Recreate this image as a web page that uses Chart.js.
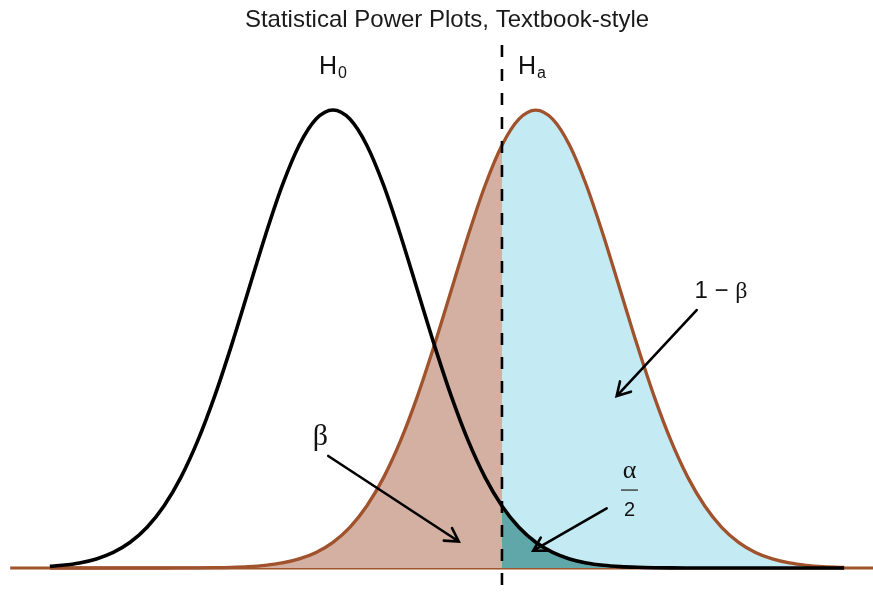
<!DOCTYPE html>
<html>
<head>
<meta charset="utf-8">
<script src="https://cdn.jsdelivr.net/npm/chart.js@4.4.1/dist/chart.umd.min.js"></script>
<style>
  html, body { margin: 0; padding: 0; background: #fff; overflow: hidden; }
  #wrap { position: relative; width: 873px; height: 592px; }
</style>
</head>
<body>
<div id="wrap"><canvas id="chart"></canvas></div>
<script>
// x grid (in H0 standard deviations) shared by both curves
const xGrid = [-3.35, -3.2, -3.0, -2.8, -2.6, -2.4, -2.2, -2.0, -1.8, -1.6, -1.4, -1.2, -1.0, -0.8, -0.6, -0.4, -0.2,
  0, 0.2, 0.4, 0.6, 0.8, 1.0, 1.2, 1.4, 1.6, 1.8, 2.0, 2.2, 2.4, 2.6, 2.8, 3.0, 3.2, 3.4, 3.6, 3.8, 4.0,
  4.2, 4.4, 4.6, 4.8, 5.0, 5.2, 5.4, 5.6, 5.8, 6.0, 6.05];

// density of the null curve
const h0Density = [0.00146, 0.00238, 0.00443, 0.00792, 0.01358, 0.02239, 0.03547, 0.05399, 0.07895, 0.11092, 0.14973,
  0.19419, 0.24197, 0.28969, 0.33322, 0.36827, 0.39104, 0.39894, 0.39104, 0.36827, 0.33322, 0.28969, 0.24197,
  0.19419, 0.14973, 0.11092, 0.07895, 0.05399, 0.03547, 0.02239, 0.01358, 0.00792, 0.00443, 0.00238, 0.00123,
  0.00061, 0.00029, 0.00013, 0.00006, 0.00002, 0.00001, 0, 0, 0, 0, 0, 0, 0, 0];

// density of the alternative curve
const haDensity = [0, 0, 0, 0, 0, 0, 0.00001, 0.00002, 0.00006, 0.00013, 0.00029, 0.00061, 0.00123, 0.00238, 0.00443,
  0.00792, 0.01358, 0.02239, 0.03547, 0.05399, 0.07895, 0.11092, 0.14973, 0.19419, 0.24197, 0.28969, 0.33322,
  0.36827, 0.39104, 0.39894, 0.39104, 0.36827, 0.33322, 0.28969, 0.24197, 0.19419, 0.14973, 0.11092, 0.07895,
  0.05399, 0.03547, 0.02239, 0.01358, 0.00792, 0.00443, 0.00238, 0.00123, 0.00061, 0.00052];

const critX = 2.0;
const baselineX = [-3.82, 6.391];

// annotation anchors, in data units
const hypLabelX = [0, 2.355];
const hypLabelY = 0.4364;
const hypSubs = ['0', 'a'];
const betaLabel = [-0.148, 0.1141];
const powerLabel = [4.592, 0.2413];
const alphaLabel = [3.509, 0.0841, 0.0679, 0.0505];
const arrowFrom = [[-0.056, 0.0976], [4.304, 0.2247], [3.239, 0.0520]];
const arrowTo = [[1.489, 0.0231], [3.357, 0.1498], [2.370, 0.0151]];

const SANS = "'Liberation Sans', Arial, sans-serif";
const SERIF = "'Liberation Serif', 'Times New Roman', serif";
const BROWN = '#A0522D';

function pts(ys, keep) {
  const out = [];
  xGrid.forEach((x, i) => { if (!keep || keep(x)) out.push({ x: x, y: ys[i] }); });
  return out;
}

const annotations = {
  id: 'annotations',
  afterDatasetsDraw(chart) {
    const ctx = chart.ctx;
    const sx = chart.scales.x, sy = chart.scales.y;
    const px = v => sx.getPixelForValue(v);
    const py = v => sy.getPixelForValue(v);
    ctx.save();
    ctx.fillStyle = '#111';
    ctx.strokeStyle = '#111';
    ctx.textBaseline = 'middle';

    // H0 / Ha with subscripts
    hypLabelX.forEach((hx, i) => {
      ctx.font = '25px ' + SANS;
      const wH = ctx.measureText('H').width;
      ctx.font = '16px ' + SANS;
      const wS = ctx.measureText(hypSubs[i]).width;
      const left = px(hx) - (wH + wS + 1) / 2;
      const cy = py(hypLabelY);
      ctx.textAlign = 'left';
      ctx.font = '25px ' + SANS;
      ctx.fillText('H', left, cy);
      ctx.font = '16px ' + SANS;
      ctx.fillText(hypSubs[i], left + wH + 1, cy + 7);
    });

    // beta
    ctx.textAlign = 'center';
    ctx.font = '30px ' + SERIF;
    ctx.fillText('\u03B2', px(betaLabel[0]), py(betaLabel[1]));

    // 1 - beta
    ctx.font = '24px ' + SANS;
    const part1 = '1 \u2212 ';
    const w1 = ctx.measureText(part1).width;
    ctx.font = '24px ' + SERIF;
    const w2 = ctx.measureText('\u03B2').width;
    let left = px(powerLabel[0]) - (w1 + w2) / 2;
    ctx.textAlign = 'left';
    ctx.font = '24px ' + SANS;
    ctx.fillText(part1, left, py(powerLabel[1]));
    ctx.font = '24px ' + SERIF;
    ctx.fillText('\u03B2', left + w1, py(powerLabel[1]) + 1);

    // alpha / 2
    ctx.textAlign = 'center';
    ctx.font = '26px ' + SERIF;
    ctx.fillText('\u03B1', px(alphaLabel[0]), py(alphaLabel[1]));
    ctx.font = '20px ' + SANS;
    ctx.fillText('2', px(alphaLabel[0]), py(alphaLabel[3]));
    ctx.lineWidth = 1.5;
    ctx.strokeStyle = '#444';
    ctx.beginPath();
    ctx.moveTo(px(alphaLabel[0]) - 8.5, py(alphaLabel[2]));
    ctx.lineTo(px(alphaLabel[0]) + 8.5, py(alphaLabel[2]));
    ctx.stroke();

    // arrows
    ctx.strokeStyle = '#000';
    ctx.lineWidth = 2.6;
    ctx.lineCap = 'round';
    arrowFrom.forEach((a, i) => {
      const x0 = px(a[0]), y0 = py(a[1]);
      const x1 = px(arrowTo[i][0]), y1 = py(arrowTo[i][1]);
      const ang = Math.atan2(y1 - y0, x1 - x0);
      const len = 15, spread = Math.PI / 6;
      ctx.beginPath();
      ctx.moveTo(x0, y0);
      ctx.lineTo(x1, y1);
      ctx.moveTo(x1 - len * Math.cos(ang - spread), y1 - len * Math.sin(ang - spread));
      ctx.lineTo(x1, y1);
      ctx.lineTo(x1 - len * Math.cos(ang + spread), y1 - len * Math.sin(ang + spread));
      ctx.stroke();
    });
    ctx.restore();
  }
};

const fillSet = (data, color) => ({
  data: data,
  borderColor: 'transparent',
  borderWidth: 0,
  backgroundColor: color,
  fill: 'origin',
  pointRadius: 0,
  cubicInterpolationMode: 'monotone'
});

new Chart(document.getElementById('chart'), {
  type: 'line',
  data: {
    datasets: [
      {
        data: [{ x: critX, y: 0.4556 }, { x: critX, y: -0.0209 }],
        borderColor: '#000',
        borderWidth: 2.6,
        borderDash: [12, 12],
        pointRadius: 0,
        fill: false
      },
      {
        data: pts(h0Density),
        borderColor: '#000',
        borderWidth: 3.6,
        pointRadius: 0,
        fill: false,
        cubicInterpolationMode: 'monotone'
      },
      {
        data: pts(haDensity),
        borderColor: BROWN,
        borderWidth: 3.3,
        pointRadius: 0,
        fill: false,
        cubicInterpolationMode: 'monotone'
      },
      fillSet(pts(h0Density, x => x >= critX), '#5FA7A8'),
      fillSet(pts(haDensity, x => x >= critX), '#C4EBF3'),
      fillSet(pts(haDensity, x => x <= critX), '#D3B0A1'),
      {
        data: baselineX.map(x => ({ x: x, y: 0 })),
        borderColor: BROWN,
        borderWidth: 3,
        pointRadius: 0,
        fill: false,
        clip: { left: 14, top: 0, right: 2, bottom: 2 }
      }
    ]
  },
  options: {
    responsive: true,
    maintainAspectRatio: false,
    animation: false,
    events: [],
    layout: { padding: { left: 21, right: 0, top: 0, bottom: 0 } },
    scales: {
      x: { type: 'linear', min: -3.692, max: 6.391, display: false },
      y: { type: 'linear', min: -0.0209, max: 0.4556, display: false }
    },
    plugins: {
      legend: { display: false },
      tooltip: { enabled: false },
      title: {
        display: true,
        text: 'Statistical Power Plots, Textbook-style',
        color: '#1a1a1a',
        font: { family: SANS, size: 24, weight: 'normal' },
        padding: { top: 6.4, bottom: 9.8 }
      }
    }
  },
  plugins: [annotations]
});
</script>
</body>
</html>
